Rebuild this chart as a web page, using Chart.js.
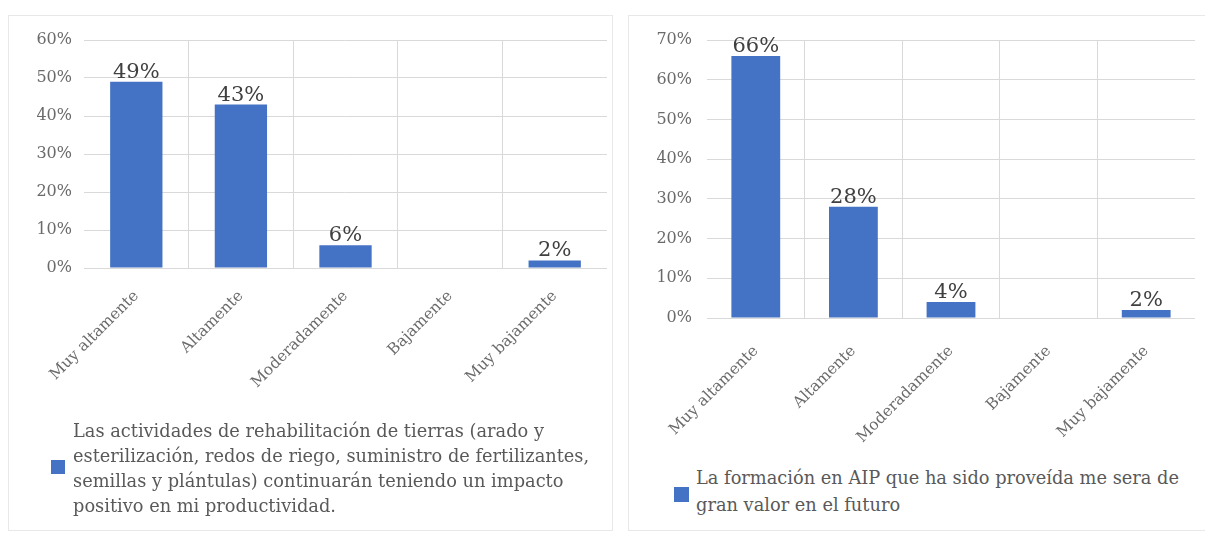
<!DOCTYPE html>
<html>
<head>
<meta charset="utf-8">
<script src="https://cdn.jsdelivr.net/npm/chart.js@4"></script>
<style>
  html, body { margin:0; padding:0; background:#fff; }
  body { width:1205px; height:535px; position:relative; overflow:hidden; }
  .panel { position:absolute; border:1px solid #e8e8e8; box-sizing:border-box; }
  canvas { position:absolute; }
  .lgbox { position:absolute; background:#4472C4; }
  .lgtext { position:absolute; font-family:"DejaVu Serif", serif; color:#595959; white-space:nowrap; font-size:17.8px; }
</style>
</head>
<body>
<div class="panel" style="left:8px;top:15px;width:605px;height:516px"></div>
<div class="panel" style="left:628px;top:15px;width:580px;height:516px"></div>
<canvas id="c1" width="604" height="395" style="left:8px;top:15px"></canvas>
<canvas id="c2" width="577" height="440" style="left:628px;top:15px"></canvas>
<div class="lgbox" style="left:51px;top:460px;width:14px;height:14px"></div>
<div class="lgtext" id="lg1" style="left:73px;top:418px;line-height:25px"></div>
<div class="lgbox" style="left:674px;top:487px;width:15px;height:15px"></div>
<div class="lgtext" id="lg2" style="left:696px;top:464px;line-height:27px"></div>
<script>
// ---- data ----
const categories = ["Muy altamente", "Altamente", "Moderadamente", "Bajamente", "Muy bajamente"];
const valuesLeft = [49, 43, 6, 0, 2];
const valuesRight = [66, 28, 4, 0, 2];
const legendLeft = [
  "Las actividades de rehabilitación de tierras (arado y",
  "esterilización, redos de riego, suministro de fertilizantes,",
  "semillas y plántulas) continuarán teniendo un impacto",
  "positivo en mi productividad."
];
const legendRight = [
  "La formación en AIP que ha sido proveída me sera de",
  "gran valor en el futuro"
];
const yMaxLeft = 60;
const yMaxRight = 70;

const BLUE = '#4472C4';
const GRID = '#d9d9d9';
const FONT = '"DejaVu Serif", serif';

document.getElementById('lg1').innerHTML = legendLeft.join('<br>');
document.getElementById('lg2').innerHTML = legendRight.join('<br>');

const valueLabels = {
  id: 'valueLabels',
  afterDatasetsDraw(chart) {
    const ctx = chart.ctx;
    ctx.save();
    ctx.font = '21px ' + FONT;
    ctx.fillStyle = '#404040';
    ctx.textAlign = 'center';
    ctx.textBaseline = 'bottom';
    chart.data.datasets.forEach((ds, di) => {
      const meta = chart.getDatasetMeta(di);
      meta.data.forEach((bar, i) => {
        const v = ds.data[i];
        if (v > 0) ctx.fillText(v + '%', bar.x, bar.y + 1);
      });
    });
    ctx.restore();
  }
};

function makeChart(id, values, label, yMax, yWidth, xHeight, padRight, tickPad, xPad) {
  return new Chart(document.getElementById(id), {
    type: 'bar',
    data: {
      labels: categories,
      datasets: [{ label: label, data: values, backgroundColor: BLUE, borderWidth: 0,
                   categoryPercentage: 1.0, barPercentage: 0.5 }]
    },
    options: {
      responsive: false,
      animation: false,
      layout: { padding: { top: 25, left: 0, right: padRight, bottom: 0 } },
      plugins: { legend: { display: false }, tooltip: { enabled: false } },
      scales: {
        x: {
          grid: { color: c => (c.index > 0 && c.index < categories.length) ? GRID : 'rgba(0,0,0,0)',
                  drawTicks: false, offset: true },
          border: { display: false },
          ticks: { minRotation: 45, maxRotation: 45, color: '#6a6a6a', padding: xPad,
                   font: { family: FONT, size: 15.5 } },
          afterFit: s => { s.height = xHeight; }
        },
        y: {
          min: 0, max: yMax,
          grid: { color: GRID, drawTicks: false },
          border: { display: false },
          ticks: { stepSize: 10, color: '#6a6a6a', padding: tickPad,
                   font: { family: FONT, size: 16 }, callback: v => v + '%' },
          afterFit: s => { s.width = yWidth; }
        }
      }
    },
    plugins: [valueLabels]
  });
}

makeChart('c1', valuesLeft, legendLeft.join(' '), yMaxLeft, 76, 142, 5, 12, 19);
makeChart('c2', valuesRight, legendRight.join(' '), yMaxRight, 79, 137, 10, 15, 24);
</script>
</body>
</html>
